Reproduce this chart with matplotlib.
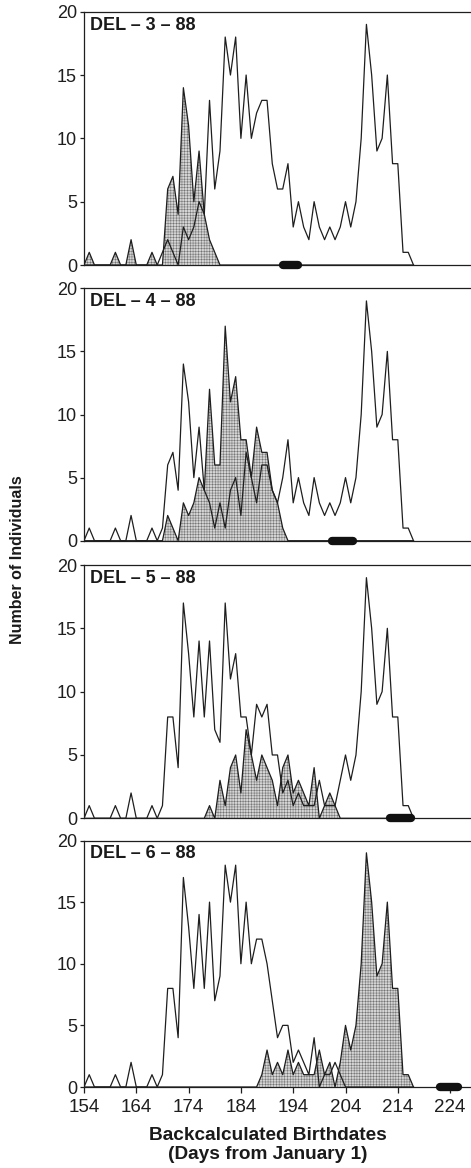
import numpy as np
import matplotlib
matplotlib.use("Agg")
import matplotlib.pyplot as plt

plt.rcParams['font.family'] = ['Liberation Sans', 'DejaVu Sans']
plt.rcParams['hatch.linewidth'] = 0.35

# ---------------- data ----------------
days = np.arange(154, 218)  # 154 .. 217

panel_labels = ["DEL \u2013 3 \u2013 88", "DEL \u2013 4 \u2013 88",
                "DEL \u2013 5 \u2013 88", "DEL \u2013 6 \u2013 88"]

# outline (other samples) per panel
outline_3 = [0, 0, 0, 0, 0, 0, 0, 0, 0, 0,
             0, 0, 0, 0, 0, 1, 2, 1, 0, 3,
             2, 3, 5, 4, 13, 6, 9, 18, 15, 18,
             10, 15, 10, 12, 13, 13, 8, 6, 6, 8,
             3, 5, 3, 2, 5, 3, 2, 3, 2, 3,
             5, 3, 5, 10, 19, 15, 9, 10, 15, 8,
             8, 1, 1, 0]
shaded_3 = [0, 1, 0, 0, 0, 0, 1, 0, 0, 2,
            0, 0, 0, 1, 0, 0, 6, 7, 4, 14,
            11, 5, 9, 4, 2, 1, 0, 0, 0, 0,
            0, 0, 0, 0, 0, 0, 0, 0, 0, 0,
            0, 0, 0, 0, 0, 0, 0, 0, 0, 0,
            0, 0, 0, 0, 0, 0, 0, 0, 0, 0,
            0, 0, 0, 0]

outline_4 = [0, 1, 0, 0, 0, 0, 1, 0, 0, 2,
             0, 0, 0, 1, 0, 1, 6, 7, 4, 14,
             11, 5, 9, 4, 3, 1, 3, 1, 4, 5,
             2, 7, 5, 3, 6, 6, 4, 3, 5, 8,
             3, 5, 3, 2, 5, 3, 2, 3, 2, 3,
             5, 3, 5, 10, 19, 15, 9, 10, 15, 8,
             8, 1, 1, 0]
shaded_4 = [0, 0, 0, 0, 0, 0, 0, 0, 0, 0,
            0, 0, 0, 0, 0, 0, 2, 1, 0, 3,
            2, 3, 5, 4, 12, 6, 6, 17, 11, 13,
            8, 8, 5, 9, 7, 7, 4, 3, 1, 0,
            0, 0, 0, 0, 0, 0, 0, 0, 0, 0,
            0, 0, 0, 0, 0, 0, 0, 0, 0, 0,
            0, 0, 0, 0]

outline_5 = [0, 1, 0, 0, 0, 0, 1, 0, 0, 2,
             0, 0, 0, 1, 0, 1, 8, 8, 4, 17,
             13, 8, 14, 8, 14, 7, 6, 17, 11, 13,
             8, 8, 5, 9, 8, 9, 5, 5, 2, 3,
             1, 2, 1, 1, 1, 3, 1, 1, 1, 3,
             5, 3, 5, 10, 19, 15, 9, 10, 15, 8,
             8, 1, 1, 0]
shaded_5 = [0, 0, 0, 0, 0, 0, 0, 0, 0, 0,
            0, 0, 0, 0, 0, 0, 0, 0, 0, 0,
            0, 0, 0, 0, 1, 0, 3, 1, 4, 5,
            2, 7, 5, 3, 5, 4, 3, 1, 4, 5,
            2, 3, 2, 1, 4, 0, 1, 2, 1, 0,
            0, 0, 0, 0, 0, 0, 0, 0, 0, 0,
            0, 0, 0, 0]

outline_6 = [0, 1, 0, 0, 0, 0, 1, 0, 0, 2,
             0, 0, 0, 1, 0, 1, 8, 8, 4, 17,
             13, 8, 14, 8, 15, 7, 9, 18, 15, 18,
             10, 15, 10, 12, 12, 10, 7, 4, 5, 5,
             2, 3, 2, 1, 4, 0, 1, 1, 2, 1,
             0, 0, 0, 0, 0, 0, 0, 0, 0, 0,
             0, 0, 0, 0]
shaded_6 = [0, 0, 0, 0, 0, 0, 0, 0, 0, 0,
            0, 0, 0, 0, 0, 0, 0, 0, 0, 0,
            0, 0, 0, 0, 0, 0, 0, 0, 0, 0,
            0, 0, 0, 0, 1, 3, 1, 2, 1, 3,
            1, 2, 1, 1, 1, 3, 1, 2, 0, 2,
            5, 3, 5, 10, 19, 15, 9, 10, 15, 8,
            8, 1, 1, 0]

# collection-date bars (start, end day)
collection_start = [192.0, 201.5, 212.5, 222.0]
collection_end = [195.0, 205.5, 216.5, 225.5]

outlines = [outline_3, outline_4, outline_5, outline_6]
shadeds = [shaded_3, shaded_4, shaded_5, shaded_6]

x_ticks = [154, 164, 174, 184, 194, 204, 214, 224]
y_ticks = [0, 5, 10, 15, 20]

# ---------------- layout ----------------
W, H = 471, 1168
fig = plt.figure(figsize=(W / 100, H / 100), dpi=100)
panel_px = [(11.7, 265.0), (288.3, 540.7), (565.0, 818.3), (840.5, 1087.0)]
left_px = 84.0
px_per_day = 5.23
xmax = 154 + (W - left_px) / px_per_day

line_col = '#1e1e1e'
for i, (top, bot) in enumerate(panel_px):
    ax = fig.add_axes([left_px / W, 1 - bot / H, (W - left_px) / W, (bot - top) / H])
    ax.set_xlim(154, xmax)
    ax.set_ylim(0, 20)
    s = np.array(shadeds[i], dtype=float)
    o = np.array(outlines[i], dtype=float)
    ax.fill_between(days, s, 0, facecolor='#d4d4d4', edgecolor='#707070',
                    hatch='++++++', linewidth=0, zorder=2)
    ax.plot(days, s, color=line_col, lw=0.9, zorder=3)
    ax.plot(days, o, color=line_col, lw=0.9, zorder=4)
    ax.plot([collection_start[i], collection_end[i]], [0, 0], color='#111111',
            lw=6, solid_capstyle='round', zorder=6, clip_on=False)
    for side in ['left', 'bottom', 'top']:
        ax.spines[side].set_linewidth(0.9)
        ax.spines[side].set_color(line_col)
    ax.spines['right'].set_visible(False)
    ax.set_yticks(y_ticks)
    ax.set_yticklabels([str(v) for v in y_ticks], fontsize=13, color='#222222')
    ax.tick_params(axis='y', length=3, width=0.9, pad=2, colors=line_col)
    ax.set_xticks(x_ticks)
    if i == 3:
        ax.set_xticklabels([str(v) for v in x_ticks], fontsize=13.5, color='#222222')
        ax.tick_params(axis='x', length=4, width=0.9, pad=5, colors=line_col)
    else:
        ax.set_xticklabels([])
        ax.tick_params(axis='x', length=0)
    ax.annotate(panel_labels[i], xy=(0, 1), xycoords='axes fraction',
                xytext=(6, -5), textcoords='offset pixels', ha='left', va='top',
                fontsize=13, fontweight='bold', color='#1a1a1a')

fig.text(18 / W, 1 - 560 / H, "Number of Individuals", rotation=90,
         ha='center', va='center', fontsize=11.5, fontweight='bold', color='#1a1a1a')
fig.text(268 / W, 1 - 1145 / H, "Backcalculated Birthdates\n(Days from January 1)",
         ha='center', va='center', fontsize=13.7, fontweight='bold', color='#1a1a1a',
         linespacing=1.1)

fig.savefig("out.png", dpi=100, facecolor='white')
